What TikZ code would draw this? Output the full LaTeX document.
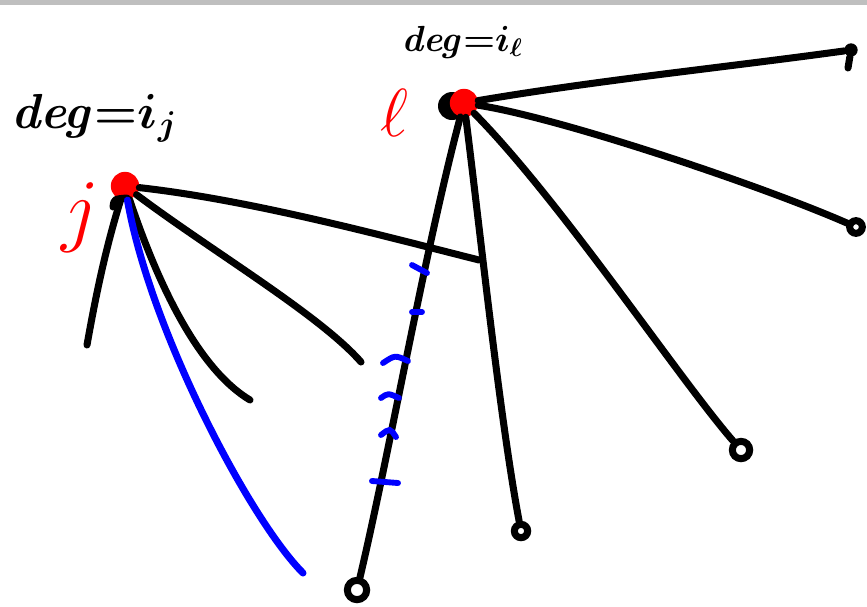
\documentclass[tikz,border=0pt]{standalone}
\usepackage{fix-cm}
\usetikzlibrary{positioning}
\tikzset{
  stroke/.style={line width=6pt, line cap=round, line join=round},
  hub/.style={circle, fill=red, inner sep=0pt, minimum size=0.85cm},
  tip/.style={circle, draw, line width=6pt, inner sep=0pt, minimum size=0.4cm},
  tick/.style={blue, line width=5pt, line cap=round},
}
\begin{document}
\begin{tikzpicture}[x=0.03cm, y=-0.03cm]
    \useasboundingbox (0,0) rectangle (867,606);
    \fill[gray!50] (0,0) rectangle (867,5);
    % the two vertices
    \fill (452,106) circle (14);
    \node[hub] (j) at (125,186) {};
    \node[hub] (l) at (464,103) {};
    \draw[stroke] (113,207) .. controls (114,199) .. (127,198);
    % labels
    \node[font=\fontsize{42}{48}\selectfont\boldmath] (degj) at (94,118) {$\mathit{deg}{=}i_j$};
    \node[font=\fontsize{31}{36}\selectfont\boldmath] (degl) at (462,42) {$\mathit{deg}{=}i_\ell$};
    \node[red, font=\fontsize{70}{80}\selectfont] (jlab) at (80,218) {$j$};
    \node[red, font=\fontsize{58}{64}\selectfont] (llab) at (394,113) {$\ell$};
    % ends
    \coordinate (a1) at (87,345);
    \coordinate (a2) at (250,400);
    \coordinate (a3) at (361,362);
    \coordinate (m) at (479,260);
    \coordinate (b) at (303,573);
    \node[fill, circle, inner sep=0pt, minimum size=0.4cm] (e1) at (851,50) {};
    \node[tip, minimum size=0.38cm] (e2) at (856,227) {};
    \node[tip, minimum size=0.52cm] (e3) at (741,450) {};
    \node[tip] (e4) at (521,531) {};
    \node[tip, minimum size=0.58cm] (e5) at (357,590) {};
    \draw[stroke] (e1) -- (848,68);
    % edges of j
    \draw[stroke] (j) .. controls (250,200) and (380,235) .. (m);
    \draw[stroke] (j) .. controls (210,250) and (320,315) .. (a3);
    \draw[stroke] (j) .. controls (160,290) and (200,370) .. (a2);
    \draw[stroke] (j) .. controls (105,250) and (95,300) .. (a1);
    \draw[stroke, blue] (j) .. controls (150,330) and (250,520) .. (b);
    % edges of l
    \draw[stroke] (l) .. controls (600,80) and (720,68) .. (e1);
    \draw[stroke] (l) .. controls (560,118) and (760,185) .. (e2);
    \draw[stroke] (l) .. controls (560,200) and (680,380) .. (e3);
    \draw[stroke] (l) .. controls (480,230) and (500,420) .. (e4);
    \draw[stroke] (l) .. controls (425,250) and (390,450) .. (e5);
    % marks
    \draw[tick] (412,265) -- (427,273);
    \draw[tick] (412,312) -- (422,312);
    \draw[tick] (383,363) .. controls (395,355) .. (408,361);
    \draw[tick] (381,398) .. controls (388,393) .. (399,398);
    \draw[tick] (381,435) .. controls (390,428) .. (396,437);
    \draw[tick] (372,481) -- (398,483);
\end{tikzpicture}
\end{document}
